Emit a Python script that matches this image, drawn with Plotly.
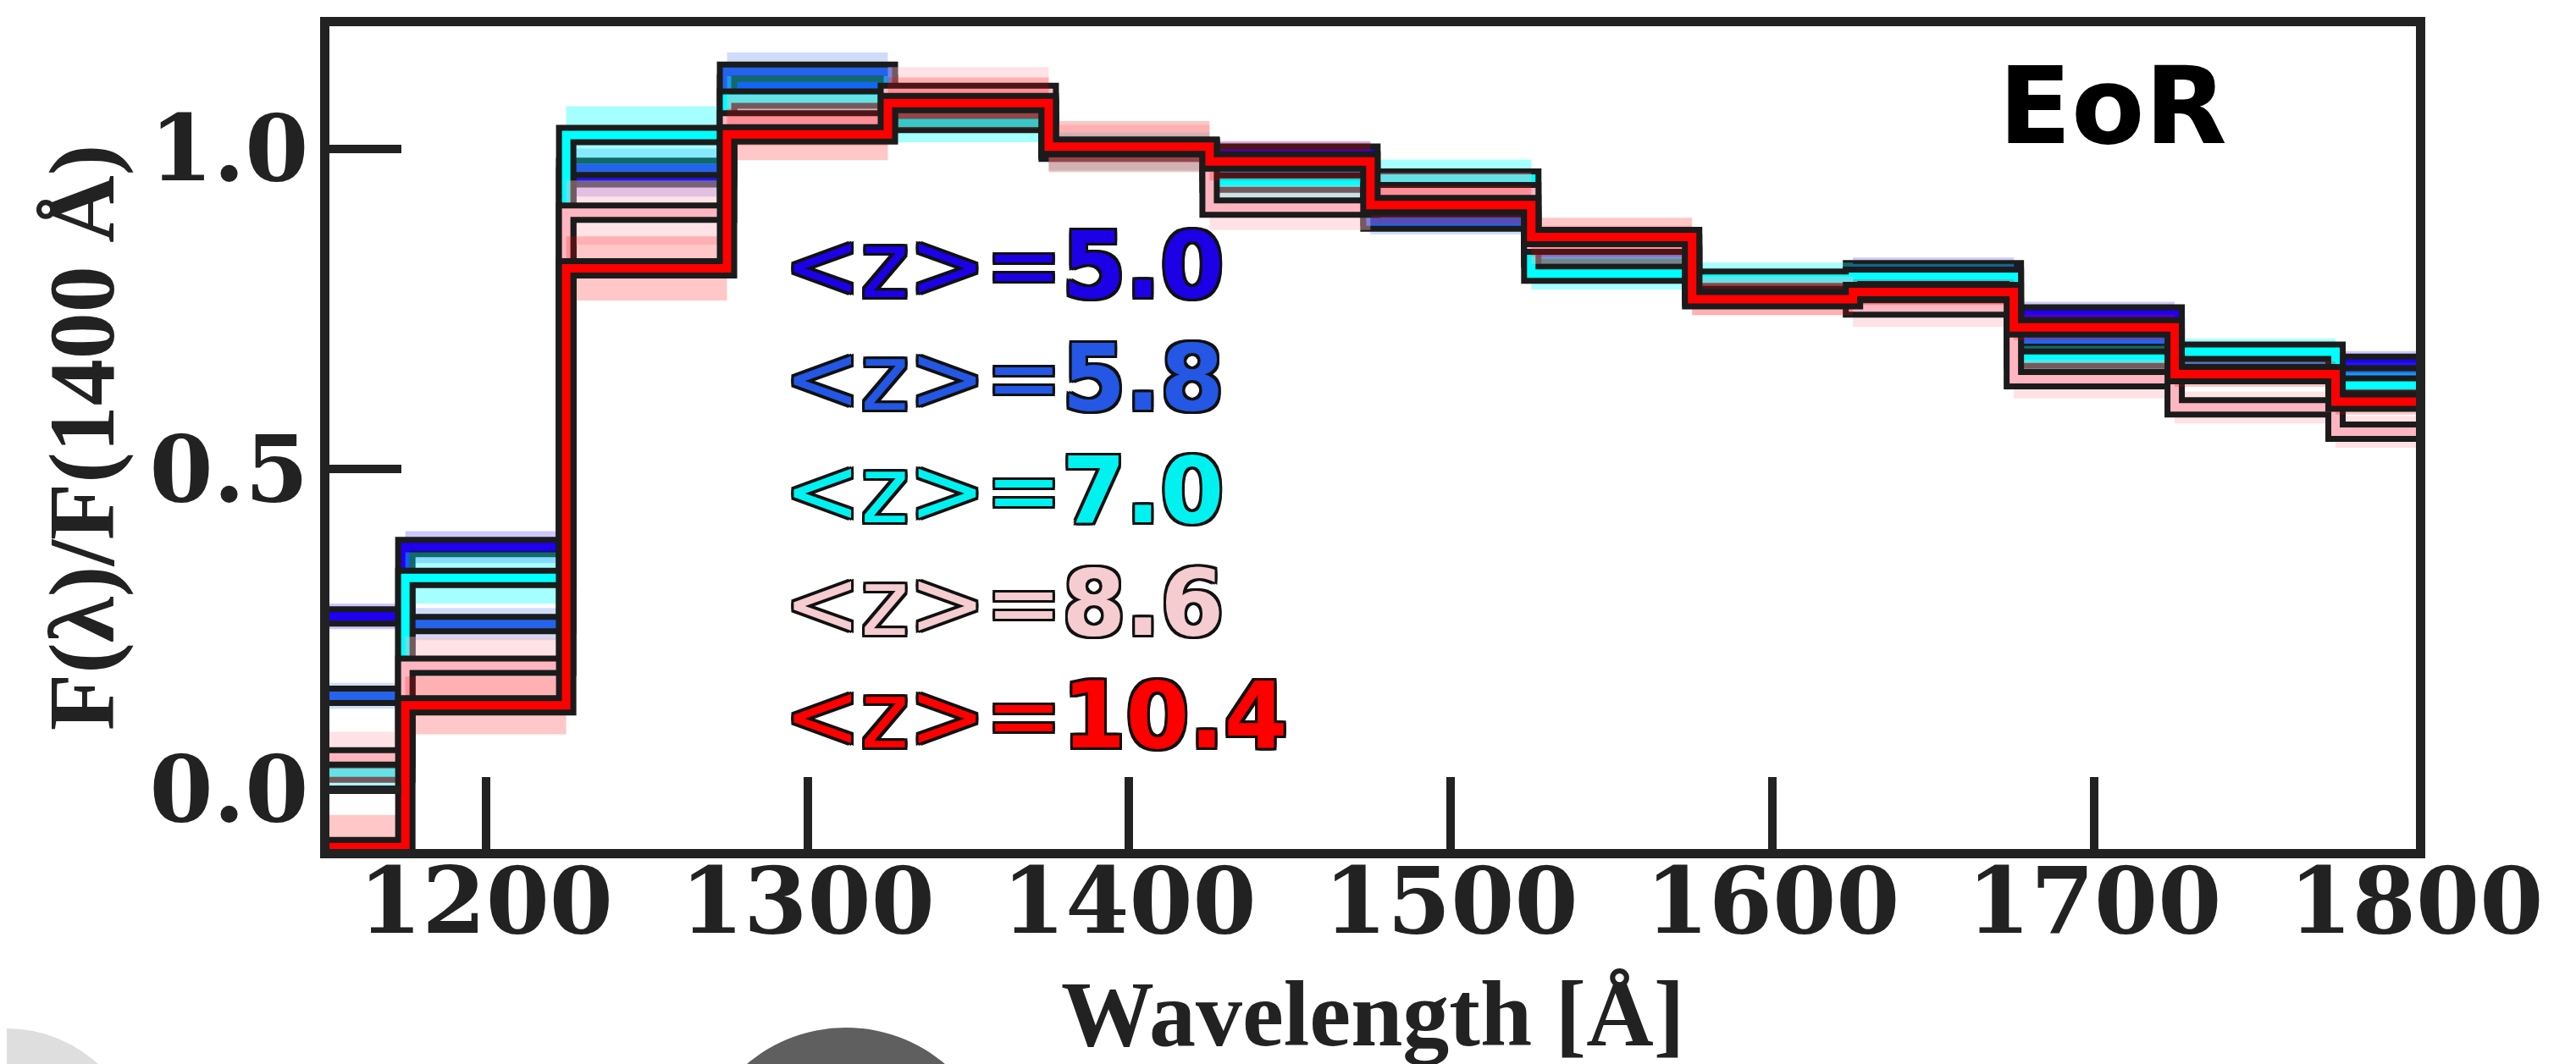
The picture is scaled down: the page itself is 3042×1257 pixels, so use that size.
import plotly.graph_objects as go

# ---------------- data ----------------
wavelength = [1150, 1200, 1250, 1300, 1350, 1400, 1450, 1500, 1550, 1600, 1650, 1700, 1750, 1800]

flux_z50 = [0.270, 0.378, 0.955, 1.100, 1.060, 1.000, 0.992, 0.895, 0.830, 0.785, 0.810, 0.741, 0.670, 0.664]
flux_z58 = [0.146, 0.258, 0.970, 1.120, 1.065, 0.998, 0.965, 0.886, 0.835, 0.780, 0.796, 0.702, 0.668, 0.646]
flux_z70 = [0.026, 0.330, 1.021, 1.078, 1.040, 0.995, 0.947, 0.953, 0.805, 0.797, 0.800, 0.672, 0.683, 0.630]
flux_z86 = [0.050, 0.193, 0.900, 1.044, 1.087, 1.002, 0.908, 0.932, 0.850, 0.770, 0.752, 0.640, 0.596, 0.558]
flux_z104 = [-0.090, 0.131, 0.813, 1.022, 1.071, 1.003, 0.980, 0.912, 0.862, 0.765, 0.776, 0.721, 0.648, 0.605]

err_z50 = [0.020, 0.025, 0.030, 0.030, 0.025, 0.020, 0.020, 0.020, 0.020, 0.020, 0.020, 0.020, 0.020, 0.020]
err_z58 = [0.020, 0.025, 0.030, 0.030, 0.025, 0.020, 0.020, 0.020, 0.020, 0.020, 0.020, 0.020, 0.020, 0.020]
err_z70 = [0.030, 0.040, 0.045, 0.035, 0.030, 0.030, 0.025, 0.030, 0.025, 0.025, 0.020, 0.020, 0.020, 0.020]
err_z86 = [0.040, 0.045, 0.050, 0.040, 0.040, 0.035, 0.035, 0.030, 0.030, 0.030, 0.030, 0.030, 0.025, 0.025]
err_z104 = [0.050, 0.045, 0.050, 0.040, 0.040, 0.040, 0.030, 0.030, 0.030, 0.025, 0.020, 0.020, 0.020, 0.020]

labels = ["5.0", "5.8", "7.0", "8.6", "10.4"]
x_ticks = [1200, 1300, 1400, 1500, 1600, 1700, 1800]
y_ticks = [0.0, 0.5, 1.0]

# ---------------- styling ----------------
line_colors = ["#1f00f0", "#2563eb", "#00ffff", "#ffb6c1", "#ff0000"]
text_colors = ["#1c00e6", "#2357e4", "#00f2f0", "#f5ccd0", "#ff0000"]
band_colors = ["rgba(31,0,240,0.22)", "rgba(37,99,235,0.22)", "rgba(0,255,255,0.35)",
               "rgba(255,182,193,0.40)", "rgba(255,0,0,0.22)"]
fluxes = [flux_z50, flux_z58, flux_z70, flux_z86, flux_z104]
errors = [err_z50, err_z58, err_z70, err_z86, err_z104]
OUTLINE = "#1b1b1b"
AXC = "#222222"

fig = go.Figure()
for flux, err, lc, bc in zip(fluxes, errors, line_colors, band_colors):
    lower = [f - e for f, e in zip(flux, err)]
    upper = [f + e for f, e in zip(flux, err)]
    fig.add_trace(go.Scatter(x=wavelength, y=lower, mode="lines", line=dict(width=0, shape="hvh"),
                             hoverinfo="skip", showlegend=False))
    fig.add_trace(go.Scatter(x=wavelength, y=upper, mode="lines", line=dict(width=0, shape="hvh"),
                             fill="tonexty", fillcolor=bc, hoverinfo="skip", showlegend=False))
    fig.add_trace(go.Scatter(x=wavelength, y=flux, mode="lines",
                             line=dict(color=OUTLINE, width=24, shape="hvh"), showlegend=False))
    fig.add_trace(go.Scatter(x=wavelength, y=flux, mode="lines",
                             line=dict(color=lc, width=10, shape="hvh"), showlegend=False))

# outlined label texts
o = 3
shadow = ", ".join(f"{dx}px {dy}px 0 #111" for dx in (-o, 0, o) for dy in (-o, 0, o) if (dx, dy) != (0, 0))
annotations = []
for i, (lab, tc) in enumerate(zip(labels, text_colors)):
    annotations.append(dict(
        text=f"&lt;z&gt;=<b>{lab}</b>", x=0.2172, y=0.7093 - i * 0.1368,
        xref="paper", yref="paper", xanchor="left", yanchor="middle", showarrow=False,
        font=dict(family="DejaVu Sans", size=108, color=tc, shadow=shadow)))

annotations.append(dict(text="<b>EoR</b>", x=0.8547, y=0.9025, xref="paper", yref="paper",
                        xanchor="center", yanchor="middle", showarrow=False,
                        font=dict(family="DejaVu Sans", size=126, color="black")))

annotations.append(dict(text="<b>Wavelength [Å]</b>", x=0.4998, y=-0.2006, xref="paper", yref="paper",
                        xanchor="center", yanchor="middle", showarrow=False,
                        font=dict(family="Liberation Serif", size=110, color=AXC)))
annotations.append(dict(text="<b>F(λ)/F(1400 Å)</b>", x=-0.1185, y=0.5, xref="paper", yref="paper",
                        xanchor="center", yanchor="middle", showarrow=False, textangle=-90,
                        font=dict(family="Liberation Serif", size=110, color=AXC)))

# fragments of neighbouring panels visible at the image edges
shapes = [
    dict(type="rect", xref="paper", yref="paper", x0=1.0752, x1=1.09, y0=-0.3, y1=1.05,
         fillcolor="black", line=dict(width=0), layer="above"),
    dict(type="circle", xref="paper", yref="paper", x0=0.1741, x1=0.3210, y0=-0.5895, y1=-0.2171,
         fillcolor="#5f5f5f", line=dict(width=0)),
    dict(type="circle", xref="paper", yref="paper", x0=-0.2196, x1=-0.0897, y0=-0.5473, y1=-0.2181,
         fillcolor="#dedede", line=dict(width=0)),
]

tickfont = dict(family="DejaVu Serif", size=108, color=AXC, weight="bold")
fig.update_layout(
    width=3042, height=1257,
    margin=dict(l=381, r=197, t=23, b=262),
    paper_bgcolor="white", plot_bgcolor="white",
    showlegend=False,
    annotations=annotations,
    shapes=shapes,
    xaxis=dict(range=[1151.4, 1800.0], tickvals=x_ticks, ticks="inside", ticklen=85, tickwidth=10,
               tickcolor=AXC, showline=True, linecolor=AXC, linewidth=11, mirror=True,
               showgrid=False, zeroline=False, tickfont=tickfont, ticklabelstandoff=-42,
               automargin=False),
    yaxis=dict(range=[-0.0931, 1.1909], tickvals=y_ticks, tickformat=".1f", ticks="inside", ticklen=85,
               tickwidth=10, tickcolor=AXC, showline=True, linecolor=AXC, linewidth=11, mirror=True,
               showgrid=False, zeroline=False, tickfont=tickfont, ticklabelstandoff=-8,
               automargin=False),
)

fig.write_html("out.html")
